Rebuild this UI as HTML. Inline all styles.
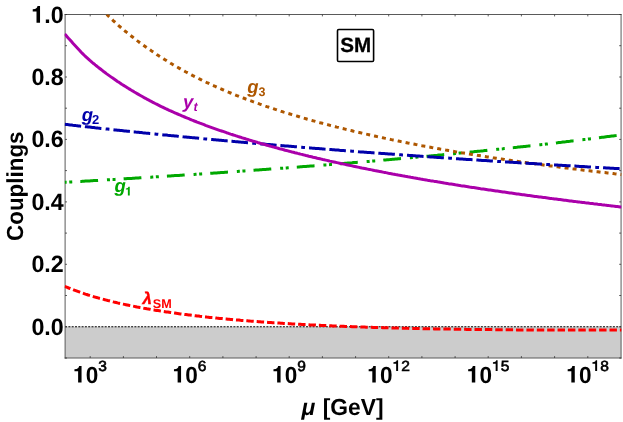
<!DOCTYPE html>
<html><head><meta charset="utf-8"><title>SM couplings</title>
<style>
html,body{margin:0;padding:0;background:#fff;}
body{width:623px;height:422px;overflow:hidden;}
svg{display:block;will-change:transform;font-family:"Liberation Sans",sans-serif;text-rendering:geometricPrecision;}
.tk{font-size:23.2px;font-weight:bold;fill:#000;}
.sup{font-size:14.7px;font-weight:normal;stroke:#000;stroke-width:0.6px;}
.lb{font-size:18.5px;font-weight:bold;font-style:italic;}
.sub{font-size:12px;font-weight:bold;font-style:normal;}
.cv{fill:none;stroke-width:3;stroke-linejoin:round;}
.tkm line{stroke:#333;stroke-width:0.8;}
</style></head><body>
<svg width="623" height="422" viewBox="0 0 623 422">
<defs><path id="one" d="M.372 0H.22V.482H.058V.575Q.17 .58 .225 .63Q.255 .66 .265 .709H.372Z"/><path id="one2" d="M.36 0H.235V.49H.06V.575Q.17 .58 .228 .625Q.262 .655 .272 .709H.36Z"/><clipPath id="cp"><rect x="64.6" y="14.5" width="556.97" height="343.5"/></clipPath></defs>
<rect x="0" y="0" width="623" height="422" fill="#fff"/>
<rect x="65.1" y="326.77" width="555.97" height="31.23" fill="#cccccc"/>
<line x1="65.1" y1="326.77" x2="621.07" y2="326.77" stroke="#000" stroke-width="1" stroke-dasharray="2 1.3"/>
<g stroke="#5a5a5a" stroke-width="1" stroke-linecap="square"><line x1="65.1" y1="14.5" x2="621.07" y2="14.5"/><line x1="65.1" y1="358.0" x2="621.07" y2="358.0"/><line x1="65.1" y1="14.5" x2="65.1" y2="358.0"/><line x1="621.07" y1="14.5" x2="621.07" y2="358.0"/></g>
<g class="tkm"><line x1="90.2" y1="358.0" x2="90.2" y2="356.1"/><line x1="90.2" y1="14.5" x2="90.2" y2="16.4"/><line x1="123.4" y1="358.0" x2="123.4" y2="356.1"/><line x1="123.4" y1="14.5" x2="123.4" y2="16.4"/><line x1="156.5" y1="358.0" x2="156.5" y2="356.1"/><line x1="156.5" y1="14.5" x2="156.5" y2="16.4"/><line x1="189.7" y1="358.0" x2="189.7" y2="356.1"/><line x1="189.7" y1="14.5" x2="189.7" y2="16.4"/><line x1="222.9" y1="358.0" x2="222.9" y2="356.1"/><line x1="222.9" y1="14.5" x2="222.9" y2="16.4"/><line x1="256.1" y1="358.0" x2="256.1" y2="356.1"/><line x1="256.1" y1="14.5" x2="256.1" y2="16.4"/><line x1="289.2" y1="358.0" x2="289.2" y2="356.1"/><line x1="289.2" y1="14.5" x2="289.2" y2="16.4"/><line x1="322.4" y1="358.0" x2="322.4" y2="356.1"/><line x1="322.4" y1="14.5" x2="322.4" y2="16.4"/><line x1="355.6" y1="358.0" x2="355.6" y2="356.1"/><line x1="355.6" y1="14.5" x2="355.6" y2="16.4"/><line x1="388.7" y1="358.0" x2="388.7" y2="356.1"/><line x1="388.7" y1="14.5" x2="388.7" y2="16.4"/><line x1="421.9" y1="358.0" x2="421.9" y2="356.1"/><line x1="421.9" y1="14.5" x2="421.9" y2="16.4"/><line x1="455.1" y1="358.0" x2="455.1" y2="356.1"/><line x1="455.1" y1="14.5" x2="455.1" y2="16.4"/><line x1="488.2" y1="358.0" x2="488.2" y2="356.1"/><line x1="488.2" y1="14.5" x2="488.2" y2="16.4"/><line x1="521.4" y1="358.0" x2="521.4" y2="356.1"/><line x1="521.4" y1="14.5" x2="521.4" y2="16.4"/><line x1="554.6" y1="358.0" x2="554.6" y2="356.1"/><line x1="554.6" y1="14.5" x2="554.6" y2="16.4"/><line x1="587.8" y1="358.0" x2="587.8" y2="356.1"/><line x1="587.8" y1="14.5" x2="587.8" y2="16.4"/><line x1="65.1" y1="358.0" x2="67.0" y2="358.0"/><line x1="621.1" y1="358.0" x2="619.2" y2="358.0"/><line x1="65.1" y1="326.8" x2="67.0" y2="326.8"/><line x1="621.1" y1="326.8" x2="619.2" y2="326.8"/><line x1="65.1" y1="295.5" x2="67.0" y2="295.5"/><line x1="621.1" y1="295.5" x2="619.2" y2="295.5"/><line x1="65.1" y1="264.3" x2="67.0" y2="264.3"/><line x1="621.1" y1="264.3" x2="619.2" y2="264.3"/><line x1="65.1" y1="233.1" x2="67.0" y2="233.1"/><line x1="621.1" y1="233.1" x2="619.2" y2="233.1"/><line x1="65.1" y1="201.9" x2="67.0" y2="201.9"/><line x1="621.1" y1="201.9" x2="619.2" y2="201.9"/><line x1="65.1" y1="170.6" x2="67.0" y2="170.6"/><line x1="621.1" y1="170.6" x2="619.2" y2="170.6"/><line x1="65.1" y1="139.4" x2="67.0" y2="139.4"/><line x1="621.1" y1="139.4" x2="619.2" y2="139.4"/><line x1="65.1" y1="108.2" x2="67.0" y2="108.2"/><line x1="621.1" y1="108.2" x2="619.2" y2="108.2"/><line x1="65.1" y1="77.0" x2="67.0" y2="77.0"/><line x1="621.1" y1="77.0" x2="619.2" y2="77.0"/><line x1="65.1" y1="45.7" x2="67.0" y2="45.7"/><line x1="621.1" y1="45.7" x2="619.2" y2="45.7"/><line x1="65.1" y1="14.5" x2="67.0" y2="14.5"/><line x1="621.1" y1="14.5" x2="619.2" y2="14.5"/></g>
<g clip-path="url(#cp)">
<path class="cv" d="M64.7 182.3 L65.9 182.2 L67.3 182.2 L68.7 182.1 L70.1 182.0 L71.5 181.9 L72.9 181.8 L74.3 181.8 L75.7 181.7 L77.1 181.6 L78.5 181.5 L79.9 181.4 L81.2 181.4 L82.6 181.3 L84.0 181.2 L85.4 181.1 L86.8 181.0 L88.2 180.9 L89.6 180.9 L91.0 180.8 L92.4 180.7 L93.8 180.6 L95.2 180.5 L96.6 180.5 L98.0 180.4 L99.4 180.3 L100.8 180.2 L102.2 180.1 L103.6 180.0 L105.0 180.0 L106.4 179.9 L107.8 179.8 L109.2 179.7 L110.6 179.6 L112.0 179.5 L113.4 179.5 L114.8 179.4 L116.2 179.3 L117.5 179.2 L118.9 179.1 L120.3 179.0 L121.7 179.0 L123.1 178.9 L124.5 178.8 L125.9 178.7 L127.3 178.6 L128.7 178.5 L130.1 178.5 L131.5 178.4 L132.9 178.3 L134.3 178.2 L135.7 178.1 L137.1 178.0 L138.5 177.9 L139.9 177.8 L141.3 177.8 L142.7 177.7 L144.1 177.6 L145.5 177.5 L146.9 177.4 L148.3 177.3 L149.7 177.2 L151.1 177.2 L152.5 177.1 L153.9 177.0 L155.2 176.9 L156.6 176.8 L158.0 176.7 L159.4 176.6 L160.8 176.5 L162.2 176.5 L163.6 176.4 L165.0 176.3 L166.4 176.2 L167.8 176.1 L169.2 176.0 L170.6 175.9 L172.0 175.8 L173.4 175.7 L174.8 175.6 L176.2 175.6 L177.6 175.5 L179.0 175.4 L180.4 175.3 L181.8 175.2 L183.2 175.1 L184.6 175.0 L186.0 174.9 L187.4 174.8 L188.8 174.7 L190.2 174.6 L191.5 174.6 L192.9 174.5 L194.3 174.4 L195.7 174.3 L197.1 174.2 L198.5 174.1 L199.9 174.0 L201.3 173.9 L202.7 173.8 L204.1 173.7 L205.5 173.6 L206.9 173.5 L208.3 173.4 L209.7 173.3 L211.1 173.2 L212.5 173.2 L213.9 173.1 L215.3 173.0 L216.7 172.9 L218.1 172.8 L219.5 172.7 L220.9 172.6 L222.3 172.5 L223.7 172.4 L225.1 172.3 L226.5 172.2 L227.9 172.1 L229.2 172.0 L230.6 171.9 L232.0 171.8 L233.4 171.7 L234.8 171.6 L236.2 171.5 L237.6 171.4 L239.0 171.3 L240.4 171.2 L241.8 171.1 L243.2 171.0 L244.6 170.9 L246.0 170.8 L247.4 170.7 L248.8 170.6 L250.2 170.5 L251.6 170.4 L253.0 170.3 L254.4 170.2 L255.8 170.1 L257.2 170.0 L258.6 169.9 L260.0 169.8 L261.4 169.7 L262.8 169.6 L264.2 169.5 L265.5 169.4 L266.9 169.3 L268.3 169.2 L269.7 169.1 L271.1 169.0 L272.5 168.9 L273.9 168.8 L275.3 168.7 L276.7 168.6 L278.1 168.5 L279.5 168.4 L280.9 168.3 L282.3 168.2 L283.7 168.1 L285.1 168.0 L286.5 167.9 L287.9 167.8 L289.3 167.7 L290.7 167.6 L292.1 167.5 L293.5 167.4 L294.9 167.3 L296.3 167.2 L297.7 167.1 L299.1 166.9 L300.5 166.8 L301.8 166.7 L303.2 166.6 L304.6 166.5 L306.0 166.4 L307.4 166.3 L308.8 166.2 L310.2 166.1 L311.6 166.0 L313.0 165.9 L314.4 165.8 L315.8 165.7 L317.2 165.5 L318.6 165.4 L320.0 165.3 L321.4 165.2 L322.8 165.1 L324.2 165.0 L325.6 164.9 L327.0 164.8 L328.4 164.7 L329.8 164.6 L331.2 164.4 L332.6 164.3 L334.0 164.2 L335.4 164.1 L336.8 164.0 L338.2 163.9 L339.5 163.8 L340.9 163.7 L342.3 163.5 L343.7 163.4 L345.1 163.3 L346.5 163.2 L347.9 163.1 L349.3 163.0 L350.7 162.9 L352.1 162.8 L353.5 162.6 L354.9 162.5 L356.3 162.4 L357.7 162.3 L359.1 162.2 L360.5 162.1 L361.9 161.9 L363.3 161.8 L364.7 161.7 L366.1 161.6 L367.5 161.5 L368.9 161.4 L370.3 161.2 L371.7 161.1 L373.1 161.0 L374.5 160.9 L375.8 160.8 L377.2 160.6 L378.6 160.5 L380.0 160.4 L381.4 160.3 L382.8 160.2 L384.2 160.0 L385.6 159.9 L387.0 159.8 L388.4 159.7 L389.8 159.6 L391.2 159.4 L392.6 159.3 L394.0 159.2 L395.4 159.1 L396.8 159.0 L398.2 158.8 L399.6 158.7 L401.0 158.6 L402.4 158.5 L403.8 158.3 L405.2 158.2 L406.6 158.1 L408.0 158.0 L409.4 157.8 L410.8 157.7 L412.2 157.6 L413.5 157.5 L414.9 157.3 L416.3 157.2 L417.7 157.1 L419.1 157.0 L420.5 156.8 L421.9 156.7 L423.3 156.6 L424.7 156.4 L426.1 156.3 L427.5 156.2 L428.9 156.1 L430.3 155.9 L431.7 155.8 L433.1 155.7 L434.5 155.5 L435.9 155.4 L437.3 155.3 L438.7 155.1 L440.1 155.0 L441.5 154.9 L442.9 154.7 L444.3 154.6 L445.7 154.5 L447.1 154.3 L448.5 154.2 L449.8 154.1 L451.2 153.9 L452.6 153.8 L454.0 153.7 L455.4 153.5 L456.8 153.4 L458.2 153.3 L459.6 153.1 L461.0 153.0 L462.4 152.9 L463.8 152.7 L465.2 152.6 L466.6 152.5 L468.0 152.3 L469.4 152.2 L470.8 152.0 L472.2 151.9 L473.6 151.8 L475.0 151.6 L476.4 151.5 L477.8 151.3 L479.2 151.2 L480.6 151.1 L482.0 150.9 L483.4 150.8 L484.8 150.6 L486.2 150.5 L487.5 150.3 L488.9 150.2 L490.3 150.1 L491.7 149.9 L493.1 149.8 L494.5 149.6 L495.9 149.5 L497.3 149.3 L498.7 149.2 L500.1 149.1 L501.5 148.9 L502.9 148.8 L504.3 148.6 L505.7 148.5 L507.1 148.3 L508.5 148.2 L509.9 148.0 L511.3 147.9 L512.7 147.7 L514.1 147.6 L515.5 147.4 L516.9 147.3 L518.3 147.1 L519.7 147.0 L521.1 146.8 L522.5 146.7 L523.8 146.5 L525.2 146.4 L526.6 146.2 L528.0 146.1 L529.4 145.9 L530.8 145.8 L532.2 145.6 L533.6 145.4 L535.0 145.3 L536.4 145.1 L537.8 145.0 L539.2 144.8 L540.6 144.7 L542.0 144.5 L543.4 144.4 L544.8 144.2 L546.2 144.0 L547.6 143.9 L549.0 143.7 L550.4 143.6 L551.8 143.4 L553.2 143.2 L554.6 143.1 L556.0 142.9 L557.4 142.8 L558.8 142.6 L560.1 142.4 L561.5 142.3 L562.9 142.1 L564.3 141.9 L565.7 141.8 L567.1 141.6 L568.5 141.4 L569.9 141.3 L571.3 141.1 L572.7 140.9 L574.1 140.8 L575.5 140.6 L576.9 140.4 L578.3 140.3 L579.7 140.1 L581.1 139.9 L582.5 139.8 L583.9 139.6 L585.3 139.4 L586.7 139.3 L588.1 139.1 L589.5 138.9 L590.9 138.7 L592.3 138.6 L593.7 138.4 L595.1 138.2 L596.5 138.0 L597.8 137.9 L599.2 137.7 L600.6 137.5 L602.0 137.3 L603.4 137.2 L604.8 137.0 L606.2 136.8 L607.6 136.6 L609.0 136.5 L610.4 136.3 L611.8 136.1 L613.2 135.9 L614.6 135.7 L616.0 135.6 L617.4 135.4 L618.8 135.2 L620.2 135.0 L621.6 134.8" stroke="#00a800" stroke-dasharray="17.799 8.899 3.000 2.600 3.000 8.099" stroke-dashoffset="27.74"/>
<path class="cv" d="M106.7 14.5 L107.8 15.5 L109.2 16.8 L110.6 18.2 L112.0 19.5 L113.4 20.8 L114.8 22.0 L116.2 23.3 L117.5 24.5 L118.9 25.8 L120.3 27.0 L121.7 28.2 L123.1 29.4 L124.5 30.6 L125.9 31.7 L127.3 32.9 L128.7 34.0 L130.1 35.1 L131.5 36.2 L132.9 37.3 L134.3 38.4 L135.7 39.5 L137.1 40.6 L138.5 41.6 L139.9 42.7 L141.3 43.7 L142.7 44.7 L144.1 45.7 L145.5 46.7 L146.9 47.7 L148.3 48.7 L149.7 49.7 L151.1 50.6 L152.5 51.6 L153.9 52.5 L155.2 53.4 L156.6 54.4 L158.0 55.3 L159.4 56.2 L160.8 57.1 L162.2 58.0 L163.6 58.9 L165.0 59.7 L166.4 60.6 L167.8 61.5 L169.2 62.3 L170.6 63.2 L172.0 64.0 L173.4 64.9 L174.8 65.7 L176.2 66.5 L177.6 67.3 L179.0 68.1 L180.4 68.9 L181.8 69.7 L183.2 70.5 L184.6 71.2 L186.0 72.0 L187.4 72.7 L188.8 73.5 L190.2 74.2 L191.5 74.9 L192.9 75.7 L194.3 76.4 L195.7 77.1 L197.1 77.8 L198.5 78.5 L199.9 79.2 L201.3 79.9 L202.7 80.6 L204.1 81.2 L205.5 81.9 L206.9 82.6 L208.3 83.2 L209.7 83.9 L211.1 84.5 L212.5 85.2 L213.9 85.8 L215.3 86.4 L216.7 87.1 L218.1 87.7 L219.5 88.3 L220.9 88.9 L222.3 89.5 L223.7 90.1 L225.1 90.7 L226.5 91.3 L227.9 91.9 L229.2 92.5 L230.6 93.0 L232.0 93.6 L233.4 94.2 L234.8 94.7 L236.2 95.3 L237.6 95.8 L239.0 96.4 L240.4 96.9 L241.8 97.5 L243.2 98.0 L244.6 98.5 L246.0 99.1 L247.4 99.6 L248.8 100.1 L250.2 100.6 L251.6 101.1 L253.0 101.7 L254.4 102.2 L255.8 102.7 L257.2 103.2 L258.6 103.7 L260.0 104.2 L261.4 104.6 L262.8 105.1 L264.2 105.6 L265.5 106.1 L266.9 106.6 L268.3 107.0 L269.7 107.5 L271.1 108.0 L272.5 108.4 L273.9 108.9 L275.3 109.4 L276.7 109.8 L278.1 110.3 L279.5 110.7 L280.9 111.2 L282.3 111.6 L283.7 112.1 L285.1 112.5 L286.5 112.9 L287.9 113.4 L289.3 113.8 L290.7 114.2 L292.1 114.7 L293.5 115.1 L294.9 115.5 L296.3 115.9 L297.7 116.3 L299.1 116.7 L300.5 117.2 L301.8 117.6 L303.2 118.0 L304.6 118.4 L306.0 118.8 L307.4 119.2 L308.8 119.6 L310.2 120.0 L311.6 120.4 L313.0 120.8 L314.4 121.1 L315.8 121.5 L317.2 121.9 L318.6 122.3 L320.0 122.7 L321.4 123.0 L322.8 123.4 L324.2 123.8 L325.6 124.2 L327.0 124.5 L328.4 124.9 L329.8 125.3 L331.2 125.6 L332.6 126.0 L334.0 126.3 L335.4 126.7 L336.8 127.1 L338.2 127.4 L339.5 127.8 L340.9 128.1 L342.3 128.5 L343.7 128.8 L345.1 129.1 L346.5 129.5 L347.9 129.8 L349.3 130.2 L350.7 130.5 L352.1 130.8 L353.5 131.2 L354.9 131.5 L356.3 131.8 L357.7 132.2 L359.1 132.5 L360.5 132.8 L361.9 133.1 L363.3 133.5 L364.7 133.8 L366.1 134.1 L367.5 134.4 L368.9 134.7 L370.3 135.0 L371.7 135.4 L373.1 135.7 L374.5 136.0 L375.8 136.3 L377.2 136.6 L378.6 136.9 L380.0 137.2 L381.4 137.5 L382.8 137.8 L384.2 138.1 L385.6 138.4 L387.0 138.7 L388.4 139.0 L389.8 139.3 L391.2 139.6 L392.6 139.9 L394.0 140.1 L395.4 140.4 L396.8 140.7 L398.2 141.0 L399.6 141.3 L401.0 141.6 L402.4 141.9 L403.8 142.1 L405.2 142.4 L406.6 142.7 L408.0 143.0 L409.4 143.2 L410.8 143.5 L412.2 143.8 L413.5 144.1 L414.9 144.3 L416.3 144.6 L417.7 144.9 L419.1 145.1 L420.5 145.4 L421.9 145.7 L423.3 145.9 L424.7 146.2 L426.1 146.4 L427.5 146.7 L428.9 147.0 L430.3 147.2 L431.7 147.5 L433.1 147.7 L434.5 148.0 L435.9 148.2 L437.3 148.5 L438.7 148.7 L440.1 149.0 L441.5 149.2 L442.9 149.5 L444.3 149.7 L445.7 150.0 L447.1 150.2 L448.5 150.5 L449.8 150.7 L451.2 151.0 L452.6 151.2 L454.0 151.4 L455.4 151.7 L456.8 151.9 L458.2 152.1 L459.6 152.4 L461.0 152.6 L462.4 152.9 L463.8 153.1 L465.2 153.3 L466.6 153.5 L468.0 153.8 L469.4 154.0 L470.8 154.2 L472.2 154.5 L473.6 154.7 L475.0 154.9 L476.4 155.1 L477.8 155.4 L479.2 155.6 L480.6 155.8 L482.0 156.0 L483.4 156.2 L484.8 156.5 L486.2 156.7 L487.5 156.9 L488.9 157.1 L490.3 157.3 L491.7 157.5 L493.1 157.8 L494.5 158.0 L495.9 158.2 L497.3 158.4 L498.7 158.6 L500.1 158.8 L501.5 159.0 L502.9 159.2 L504.3 159.4 L505.7 159.7 L507.1 159.9 L508.5 160.1 L509.9 160.3 L511.3 160.5 L512.7 160.7 L514.1 160.9 L515.5 161.1 L516.9 161.3 L518.3 161.5 L519.7 161.7 L521.1 161.9 L522.5 162.1 L523.8 162.3 L525.2 162.5 L526.6 162.7 L528.0 162.9 L529.4 163.1 L530.8 163.3 L532.2 163.5 L533.6 163.6 L535.0 163.8 L536.4 164.0 L537.8 164.2 L539.2 164.4 L540.6 164.6 L542.0 164.8 L543.4 165.0 L544.8 165.2 L546.2 165.3 L547.6 165.5 L549.0 165.7 L550.4 165.9 L551.8 166.1 L553.2 166.3 L554.6 166.5 L556.0 166.6 L557.4 166.8 L558.8 167.0 L560.1 167.2 L561.5 167.4 L562.9 167.5 L564.3 167.7 L565.7 167.9 L567.1 168.1 L568.5 168.2 L569.9 168.4 L571.3 168.6 L572.7 168.8 L574.1 168.9 L575.5 169.1 L576.9 169.3 L578.3 169.5 L579.7 169.6 L581.1 169.8 L582.5 170.0 L583.9 170.2 L585.3 170.3 L586.7 170.5 L588.1 170.7 L589.5 170.8 L590.9 171.0 L592.3 171.2 L593.7 171.3 L595.1 171.5 L596.5 171.7 L597.8 171.8 L599.2 172.0 L600.6 172.2 L602.0 172.3 L603.4 172.5 L604.8 172.6 L606.2 172.8 L607.6 173.0 L609.0 173.1 L610.4 173.3 L611.8 173.4 L613.2 173.6 L614.6 173.8 L616.0 173.9 L617.4 174.1 L618.8 174.2 L620.2 174.4 L621.6 174.6" stroke="#ae5700" stroke-dasharray="4.000 4.055" stroke-dashoffset="0.46"/>
<path class="cv" d="M64.7 124.3 L65.9 124.5 L67.3 124.6 L68.7 124.8 L70.1 125.0 L71.5 125.1 L72.9 125.3 L74.3 125.4 L75.7 125.6 L77.1 125.7 L78.5 125.9 L79.9 126.1 L81.2 126.2 L82.6 126.4 L84.0 126.5 L85.4 126.7 L86.8 126.8 L88.2 127.0 L89.6 127.1 L91.0 127.3 L92.4 127.5 L93.8 127.6 L95.2 127.8 L96.6 127.9 L98.0 128.1 L99.4 128.2 L100.8 128.4 L102.2 128.5 L103.6 128.7 L105.0 128.8 L106.4 129.0 L107.8 129.1 L109.2 129.3 L110.6 129.4 L112.0 129.6 L113.4 129.7 L114.8 129.9 L116.2 130.0 L117.5 130.2 L118.9 130.3 L120.3 130.5 L121.7 130.6 L123.1 130.7 L124.5 130.9 L125.9 131.0 L127.3 131.2 L128.7 131.3 L130.1 131.5 L131.5 131.6 L132.9 131.8 L134.3 131.9 L135.7 132.1 L137.1 132.2 L138.5 132.3 L139.9 132.5 L141.3 132.6 L142.7 132.8 L144.1 132.9 L145.5 133.1 L146.9 133.2 L148.3 133.3 L149.7 133.5 L151.1 133.6 L152.5 133.8 L153.9 133.9 L155.2 134.0 L156.6 134.2 L158.0 134.3 L159.4 134.5 L160.8 134.6 L162.2 134.7 L163.6 134.9 L165.0 135.0 L166.4 135.1 L167.8 135.3 L169.2 135.4 L170.6 135.6 L172.0 135.7 L173.4 135.8 L174.8 136.0 L176.2 136.1 L177.6 136.2 L179.0 136.4 L180.4 136.5 L181.8 136.6 L183.2 136.8 L184.6 136.9 L186.0 137.0 L187.4 137.2 L188.8 137.3 L190.2 137.4 L191.5 137.6 L192.9 137.7 L194.3 137.8 L195.7 138.0 L197.1 138.1 L198.5 138.2 L199.9 138.4 L201.3 138.5 L202.7 138.6 L204.1 138.8 L205.5 138.9 L206.9 139.0 L208.3 139.1 L209.7 139.3 L211.1 139.4 L212.5 139.5 L213.9 139.7 L215.3 139.8 L216.7 139.9 L218.1 140.0 L219.5 140.2 L220.9 140.3 L222.3 140.4 L223.7 140.6 L225.1 140.7 L226.5 140.8 L227.9 140.9 L229.2 141.1 L230.6 141.2 L232.0 141.3 L233.4 141.4 L234.8 141.6 L236.2 141.7 L237.6 141.8 L239.0 141.9 L240.4 142.1 L241.8 142.2 L243.2 142.3 L244.6 142.4 L246.0 142.5 L247.4 142.7 L248.8 142.8 L250.2 142.9 L251.6 143.0 L253.0 143.2 L254.4 143.3 L255.8 143.4 L257.2 143.5 L258.6 143.6 L260.0 143.8 L261.4 143.9 L262.8 144.0 L264.2 144.1 L265.5 144.2 L266.9 144.4 L268.3 144.5 L269.7 144.6 L271.1 144.7 L272.5 144.8 L273.9 144.9 L275.3 145.1 L276.7 145.2 L278.1 145.3 L279.5 145.4 L280.9 145.5 L282.3 145.7 L283.7 145.8 L285.1 145.9 L286.5 146.0 L287.9 146.1 L289.3 146.2 L290.7 146.3 L292.1 146.5 L293.5 146.6 L294.9 146.7 L296.3 146.8 L297.7 146.9 L299.1 147.0 L300.5 147.2 L301.8 147.3 L303.2 147.4 L304.6 147.5 L306.0 147.6 L307.4 147.7 L308.8 147.8 L310.2 147.9 L311.6 148.1 L313.0 148.2 L314.4 148.3 L315.8 148.4 L317.2 148.5 L318.6 148.6 L320.0 148.7 L321.4 148.8 L322.8 148.9 L324.2 149.1 L325.6 149.2 L327.0 149.3 L328.4 149.4 L329.8 149.5 L331.2 149.6 L332.6 149.7 L334.0 149.8 L335.4 149.9 L336.8 150.0 L338.2 150.1 L339.5 150.3 L340.9 150.4 L342.3 150.5 L343.7 150.6 L345.1 150.7 L346.5 150.8 L347.9 150.9 L349.3 151.0 L350.7 151.1 L352.1 151.2 L353.5 151.3 L354.9 151.4 L356.3 151.5 L357.7 151.6 L359.1 151.8 L360.5 151.9 L361.9 152.0 L363.3 152.1 L364.7 152.2 L366.1 152.3 L367.5 152.4 L368.9 152.5 L370.3 152.6 L371.7 152.7 L373.1 152.8 L374.5 152.9 L375.8 153.0 L377.2 153.1 L378.6 153.2 L380.0 153.3 L381.4 153.4 L382.8 153.5 L384.2 153.6 L385.6 153.7 L387.0 153.8 L388.4 153.9 L389.8 154.0 L391.2 154.1 L392.6 154.2 L394.0 154.3 L395.4 154.4 L396.8 154.5 L398.2 154.6 L399.6 154.7 L401.0 154.8 L402.4 154.9 L403.8 155.0 L405.2 155.1 L406.6 155.2 L408.0 155.3 L409.4 155.4 L410.8 155.5 L412.2 155.6 L413.5 155.7 L414.9 155.8 L416.3 155.9 L417.7 156.0 L419.1 156.1 L420.5 156.2 L421.9 156.3 L423.3 156.4 L424.7 156.5 L426.1 156.6 L427.5 156.7 L428.9 156.8 L430.3 156.9 L431.7 157.0 L433.1 157.1 L434.5 157.2 L435.9 157.3 L437.3 157.4 L438.7 157.5 L440.1 157.6 L441.5 157.7 L442.9 157.8 L444.3 157.9 L445.7 158.0 L447.1 158.0 L448.5 158.1 L449.8 158.2 L451.2 158.3 L452.6 158.4 L454.0 158.5 L455.4 158.6 L456.8 158.7 L458.2 158.8 L459.6 158.9 L461.0 159.0 L462.4 159.1 L463.8 159.2 L465.2 159.3 L466.6 159.4 L468.0 159.5 L469.4 159.5 L470.8 159.6 L472.2 159.7 L473.6 159.8 L475.0 159.9 L476.4 160.0 L477.8 160.1 L479.2 160.2 L480.6 160.3 L482.0 160.4 L483.4 160.5 L484.8 160.5 L486.2 160.6 L487.5 160.7 L488.9 160.8 L490.3 160.9 L491.7 161.0 L493.1 161.1 L494.5 161.2 L495.9 161.3 L497.3 161.4 L498.7 161.4 L500.1 161.5 L501.5 161.6 L502.9 161.7 L504.3 161.8 L505.7 161.9 L507.1 162.0 L508.5 162.1 L509.9 162.2 L511.3 162.2 L512.7 162.3 L514.1 162.4 L515.5 162.5 L516.9 162.6 L518.3 162.7 L519.7 162.8 L521.1 162.9 L522.5 162.9 L523.8 163.0 L525.2 163.1 L526.6 163.2 L528.0 163.3 L529.4 163.4 L530.8 163.5 L532.2 163.5 L533.6 163.6 L535.0 163.7 L536.4 163.8 L537.8 163.9 L539.2 164.0 L540.6 164.1 L542.0 164.1 L543.4 164.2 L544.8 164.3 L546.2 164.4 L547.6 164.5 L549.0 164.6 L550.4 164.7 L551.8 164.7 L553.2 164.8 L554.6 164.9 L556.0 165.0 L557.4 165.1 L558.8 165.2 L560.1 165.2 L561.5 165.3 L562.9 165.4 L564.3 165.5 L565.7 165.6 L567.1 165.7 L568.5 165.7 L569.9 165.8 L571.3 165.9 L572.7 166.0 L574.1 166.1 L575.5 166.1 L576.9 166.2 L578.3 166.3 L579.7 166.4 L581.1 166.5 L582.5 166.6 L583.9 166.6 L585.3 166.7 L586.7 166.8 L588.1 166.9 L589.5 167.0 L590.9 167.0 L592.3 167.1 L593.7 167.2 L595.1 167.3 L596.5 167.4 L597.8 167.4 L599.2 167.5 L600.6 167.6 L602.0 167.7 L603.4 167.8 L604.8 167.8 L606.2 167.9 L607.6 168.0 L609.0 168.1 L610.4 168.2 L611.8 168.2 L613.2 168.3 L614.6 168.4 L616.0 168.5 L617.4 168.5 L618.8 168.6 L620.2 168.7 L621.6 168.8" stroke="#0000aa" stroke-dasharray="16.600 3.800 16.600 4.300 3.800 4.030" stroke-dashoffset="0.06"/>
<path class="cv" d="M64.7 33.9 L65.9 35.3 L67.3 36.9 L68.7 38.5 L70.1 40.0 L71.5 41.6 L72.9 43.2 L74.3 44.7 L75.7 46.2 L77.1 47.7 L78.5 49.2 L79.9 50.7 L81.2 52.2 L82.6 53.6 L84.0 55.0 L85.4 56.3 L86.8 57.6 L88.2 58.9 L89.6 60.2 L91.0 61.4 L92.4 62.6 L93.8 63.7 L95.2 64.9 L96.6 66.0 L98.0 67.1 L99.4 68.2 L100.8 69.3 L102.2 70.4 L103.6 71.5 L105.0 72.5 L106.4 73.6 L107.8 74.6 L109.2 75.6 L110.6 76.6 L112.0 77.6 L113.4 78.5 L114.8 79.5 L116.2 80.5 L117.5 81.4 L118.9 82.3 L120.3 83.2 L121.7 84.2 L123.1 85.1 L124.5 85.9 L125.9 86.8 L127.3 87.7 L128.7 88.6 L130.1 89.4 L131.5 90.3 L132.9 91.1 L134.3 92.0 L135.7 92.8 L137.1 93.6 L138.5 94.4 L139.9 95.2 L141.3 96.0 L142.7 96.8 L144.1 97.6 L145.5 98.3 L146.9 99.1 L148.3 99.8 L149.7 100.6 L151.1 101.3 L152.5 102.1 L153.9 102.8 L155.2 103.5 L156.6 104.2 L158.0 104.9 L159.4 105.6 L160.8 106.3 L162.2 107.0 L163.6 107.6 L165.0 108.3 L166.4 109.0 L167.8 109.6 L169.2 110.3 L170.6 110.9 L172.0 111.5 L173.4 112.2 L174.8 112.8 L176.2 113.4 L177.6 114.0 L179.0 114.6 L180.4 115.2 L181.8 115.8 L183.2 116.4 L184.6 117.0 L186.0 117.6 L187.4 118.2 L188.8 118.7 L190.2 119.3 L191.5 119.9 L192.9 120.4 L194.3 121.0 L195.7 121.5 L197.1 122.1 L198.5 122.6 L199.9 123.2 L201.3 123.7 L202.7 124.2 L204.1 124.7 L205.5 125.3 L206.9 125.8 L208.3 126.3 L209.7 126.8 L211.1 127.3 L212.5 127.8 L213.9 128.3 L215.3 128.8 L216.7 129.3 L218.1 129.8 L219.5 130.3 L220.9 130.8 L222.3 131.2 L223.7 131.7 L225.1 132.2 L226.5 132.7 L227.9 133.1 L229.2 133.6 L230.6 134.1 L232.0 134.5 L233.4 135.0 L234.8 135.4 L236.2 135.9 L237.6 136.3 L239.0 136.8 L240.4 137.2 L241.8 137.7 L243.2 138.1 L244.6 138.5 L246.0 139.0 L247.4 139.4 L248.8 139.8 L250.2 140.3 L251.6 140.7 L253.0 141.1 L254.4 141.5 L255.8 141.9 L257.2 142.3 L258.6 142.8 L260.0 143.2 L261.4 143.6 L262.8 144.0 L264.2 144.4 L265.5 144.8 L266.9 145.2 L268.3 145.6 L269.7 146.0 L271.1 146.4 L272.5 146.7 L273.9 147.1 L275.3 147.5 L276.7 147.9 L278.1 148.3 L279.5 148.7 L280.9 149.0 L282.3 149.4 L283.7 149.8 L285.1 150.2 L286.5 150.5 L287.9 150.9 L289.3 151.3 L290.7 151.6 L292.1 152.0 L293.5 152.3 L294.9 152.7 L296.3 153.0 L297.7 153.4 L299.1 153.7 L300.5 154.1 L301.8 154.4 L303.2 154.8 L304.6 155.1 L306.0 155.5 L307.4 155.8 L308.8 156.2 L310.2 156.5 L311.6 156.8 L313.0 157.2 L314.4 157.5 L315.8 157.8 L317.2 158.2 L318.6 158.5 L320.0 158.8 L321.4 159.1 L322.8 159.5 L324.2 159.8 L325.6 160.1 L327.0 160.4 L328.4 160.7 L329.8 161.1 L331.2 161.4 L332.6 161.7 L334.0 162.0 L335.4 162.3 L336.8 162.6 L338.2 162.9 L339.5 163.2 L340.9 163.5 L342.3 163.8 L343.7 164.1 L345.1 164.4 L346.5 164.7 L347.9 165.0 L349.3 165.3 L350.7 165.6 L352.1 165.9 L353.5 166.2 L354.9 166.5 L356.3 166.8 L357.7 167.1 L359.1 167.4 L360.5 167.7 L361.9 168.0 L363.3 168.2 L364.7 168.5 L366.1 168.8 L367.5 169.1 L368.9 169.4 L370.3 169.6 L371.7 169.9 L373.1 170.2 L374.5 170.5 L375.8 170.7 L377.2 171.0 L378.6 171.3 L380.0 171.6 L381.4 171.8 L382.8 172.1 L384.2 172.4 L385.6 172.6 L387.0 172.9 L388.4 173.2 L389.8 173.4 L391.2 173.7 L392.6 174.0 L394.0 174.2 L395.4 174.5 L396.8 174.7 L398.2 175.0 L399.6 175.2 L401.0 175.5 L402.4 175.8 L403.8 176.0 L405.2 176.3 L406.6 176.5 L408.0 176.8 L409.4 177.0 L410.8 177.3 L412.2 177.5 L413.5 177.8 L414.9 178.0 L416.3 178.2 L417.7 178.5 L419.1 178.7 L420.5 179.0 L421.9 179.2 L423.3 179.5 L424.7 179.7 L426.1 179.9 L427.5 180.2 L428.9 180.4 L430.3 180.7 L431.7 180.9 L433.1 181.1 L434.5 181.4 L435.9 181.6 L437.3 181.8 L438.7 182.1 L440.1 182.3 L441.5 182.5 L442.9 182.7 L444.3 183.0 L445.7 183.2 L447.1 183.4 L448.5 183.7 L449.8 183.9 L451.2 184.1 L452.6 184.3 L454.0 184.5 L455.4 184.8 L456.8 185.0 L458.2 185.2 L459.6 185.4 L461.0 185.7 L462.4 185.9 L463.8 186.1 L465.2 186.3 L466.6 186.5 L468.0 186.7 L469.4 187.0 L470.8 187.2 L472.2 187.4 L473.6 187.6 L475.0 187.8 L476.4 188.0 L477.8 188.2 L479.2 188.4 L480.6 188.7 L482.0 188.9 L483.4 189.1 L484.8 189.3 L486.2 189.5 L487.5 189.7 L488.9 189.9 L490.3 190.1 L491.7 190.3 L493.1 190.5 L494.5 190.7 L495.9 190.9 L497.3 191.1 L498.7 191.3 L500.1 191.5 L501.5 191.7 L502.9 191.9 L504.3 192.1 L505.7 192.3 L507.1 192.5 L508.5 192.7 L509.9 192.9 L511.3 193.1 L512.7 193.3 L514.1 193.5 L515.5 193.7 L516.9 193.9 L518.3 194.1 L519.7 194.3 L521.1 194.5 L522.5 194.7 L523.8 194.8 L525.2 195.0 L526.6 195.2 L528.0 195.4 L529.4 195.6 L530.8 195.8 L532.2 196.0 L533.6 196.2 L535.0 196.4 L536.4 196.5 L537.8 196.7 L539.2 196.9 L540.6 197.1 L542.0 197.3 L543.4 197.5 L544.8 197.6 L546.2 197.8 L547.6 198.0 L549.0 198.2 L550.4 198.4 L551.8 198.6 L553.2 198.7 L554.6 198.9 L556.0 199.1 L557.4 199.3 L558.8 199.5 L560.1 199.6 L561.5 199.8 L562.9 200.0 L564.3 200.2 L565.7 200.3 L567.1 200.5 L568.5 200.7 L569.9 200.9 L571.3 201.0 L572.7 201.2 L574.1 201.4 L575.5 201.6 L576.9 201.7 L578.3 201.9 L579.7 202.1 L581.1 202.2 L582.5 202.4 L583.9 202.6 L585.3 202.8 L586.7 202.9 L588.1 203.1 L589.5 203.3 L590.9 203.4 L592.3 203.6 L593.7 203.8 L595.1 203.9 L596.5 204.1 L597.8 204.3 L599.2 204.4 L600.6 204.6 L602.0 204.8 L603.4 204.9 L604.8 205.1 L606.2 205.2 L607.6 205.4 L609.0 205.6 L610.4 205.7 L611.8 205.9 L613.2 206.1 L614.6 206.2 L616.0 206.4 L617.4 206.5 L618.8 206.7 L620.2 206.9 L621.6 207.0" stroke="#aa00aa"/>
<path class="cv" d="M64.7 286.3 L65.9 286.8 L67.3 287.4 L68.7 288.0 L70.1 288.5 L71.5 289.1 L72.9 289.6 L74.3 290.2 L75.7 290.7 L77.1 291.2 L78.5 291.7 L79.9 292.2 L81.2 292.7 L82.6 293.1 L84.0 293.6 L85.4 294.1 L86.8 294.5 L88.2 295.0 L89.6 295.4 L91.0 295.8 L92.4 296.2 L93.8 296.7 L95.2 297.1 L96.6 297.5 L98.0 297.9 L99.4 298.3 L100.8 298.6 L102.2 299.0 L103.6 299.4 L105.0 299.8 L106.4 300.1 L107.8 300.5 L109.2 300.8 L110.6 301.2 L112.0 301.5 L113.4 301.9 L114.8 302.2 L116.2 302.5 L117.5 302.9 L118.9 303.2 L120.3 303.5 L121.7 303.8 L123.1 304.1 L124.5 304.4 L125.9 304.7 L127.3 305.0 L128.7 305.3 L130.1 305.6 L131.5 305.9 L132.9 306.1 L134.3 306.4 L135.7 306.7 L137.1 307.0 L138.5 307.2 L139.9 307.5 L141.3 307.7 L142.7 308.0 L144.1 308.3 L145.5 308.5 L146.9 308.8 L148.3 309.0 L149.7 309.2 L151.1 309.5 L152.5 309.7 L153.9 309.9 L155.2 310.2 L156.6 310.4 L158.0 310.6 L159.4 310.8 L160.8 311.1 L162.2 311.3 L163.6 311.5 L165.0 311.7 L166.4 311.9 L167.8 312.1 L169.2 312.3 L170.6 312.5 L172.0 312.7 L173.4 312.9 L174.8 313.1 L176.2 313.3 L177.6 313.5 L179.0 313.7 L180.4 313.9 L181.8 314.1 L183.2 314.2 L184.6 314.4 L186.0 314.6 L187.4 314.8 L188.8 315.0 L190.2 315.1 L191.5 315.3 L192.9 315.5 L194.3 315.6 L195.7 315.8 L197.1 316.0 L198.5 316.1 L199.9 316.3 L201.3 316.4 L202.7 316.6 L204.1 316.8 L205.5 316.9 L206.9 317.1 L208.3 317.2 L209.7 317.4 L211.1 317.5 L212.5 317.6 L213.9 317.8 L215.3 317.9 L216.7 318.1 L218.1 318.2 L219.5 318.4 L220.9 318.5 L222.3 318.6 L223.7 318.8 L225.1 318.9 L226.5 319.0 L227.9 319.2 L229.2 319.3 L230.6 319.4 L232.0 319.5 L233.4 319.7 L234.8 319.8 L236.2 319.9 L237.6 320.0 L239.0 320.1 L240.4 320.3 L241.8 320.4 L243.2 320.5 L244.6 320.6 L246.0 320.7 L247.4 320.8 L248.8 320.9 L250.2 321.1 L251.6 321.2 L253.0 321.3 L254.4 321.4 L255.8 321.5 L257.2 321.6 L258.6 321.7 L260.0 321.8 L261.4 321.9 L262.8 322.0 L264.2 322.1 L265.5 322.2 L266.9 322.3 L268.3 322.4 L269.7 322.5 L271.1 322.6 L272.5 322.7 L273.9 322.8 L275.3 322.8 L276.7 322.9 L278.1 323.0 L279.5 323.1 L280.9 323.2 L282.3 323.3 L283.7 323.4 L285.1 323.5 L286.5 323.5 L287.9 323.6 L289.3 323.7 L290.7 323.8 L292.1 323.9 L293.5 324.0 L294.9 324.0 L296.3 324.1 L297.7 324.2 L299.1 324.3 L300.5 324.3 L301.8 324.4 L303.2 324.5 L304.6 324.6 L306.0 324.6 L307.4 324.7 L308.8 324.8 L310.2 324.9 L311.6 324.9 L313.0 325.0 L314.4 325.1 L315.8 325.1 L317.2 325.2 L318.6 325.3 L320.0 325.3 L321.4 325.4 L322.8 325.5 L324.2 325.5 L325.6 325.6 L327.0 325.6 L328.4 325.7 L329.8 325.8 L331.2 325.8 L332.6 325.9 L334.0 326.0 L335.4 326.0 L336.8 326.1 L338.2 326.1 L339.5 326.2 L340.9 326.2 L342.3 326.3 L343.7 326.3 L345.1 326.4 L346.5 326.5 L347.9 326.5 L349.3 326.6 L350.7 326.6 L352.1 326.7 L353.5 326.7 L354.9 326.8 L356.3 326.8 L357.7 326.9 L359.1 326.9 L360.5 327.0 L361.9 327.0 L363.3 327.1 L364.7 327.1 L366.1 327.2 L367.5 327.2 L368.9 327.2 L370.3 327.3 L371.7 327.3 L373.1 327.4 L374.5 327.4 L375.8 327.5 L377.2 327.5 L378.6 327.5 L380.0 327.6 L381.4 327.6 L382.8 327.7 L384.2 327.7 L385.6 327.7 L387.0 327.8 L388.4 327.8 L389.8 327.9 L391.2 327.9 L392.6 327.9 L394.0 328.0 L395.4 328.0 L396.8 328.0 L398.2 328.1 L399.6 328.1 L401.0 328.2 L402.4 328.2 L403.8 328.2 L405.2 328.3 L406.6 328.3 L408.0 328.3 L409.4 328.4 L410.8 328.4 L412.2 328.4 L413.5 328.4 L414.9 328.5 L416.3 328.5 L417.7 328.5 L419.1 328.6 L420.5 328.6 L421.9 328.6 L423.3 328.7 L424.7 328.7 L426.1 328.7 L427.5 328.7 L428.9 328.8 L430.3 328.8 L431.7 328.8 L433.1 328.8 L434.5 328.9 L435.9 328.9 L437.3 328.9 L438.7 328.9 L440.1 329.0 L441.5 329.0 L442.9 329.0 L444.3 329.0 L445.7 329.1 L447.1 329.1 L448.5 329.1 L449.8 329.1 L451.2 329.1 L452.6 329.2 L454.0 329.2 L455.4 329.2 L456.8 329.2 L458.2 329.3 L459.6 329.3 L461.0 329.3 L462.4 329.3 L463.8 329.3 L465.2 329.3 L466.6 329.4 L468.0 329.4 L469.4 329.4 L470.8 329.4 L472.2 329.4 L473.6 329.5 L475.0 329.5 L476.4 329.5 L477.8 329.5 L479.2 329.5 L480.6 329.5 L482.0 329.5 L483.4 329.6 L484.8 329.6 L486.2 329.6 L487.5 329.6 L488.9 329.6 L490.3 329.6 L491.7 329.6 L493.1 329.7 L494.5 329.7 L495.9 329.7 L497.3 329.7 L498.7 329.7 L500.1 329.7 L501.5 329.7 L502.9 329.7 L504.3 329.8 L505.7 329.8 L507.1 329.8 L508.5 329.8 L509.9 329.8 L511.3 329.8 L512.7 329.8 L514.1 329.8 L515.5 329.8 L516.9 329.9 L518.3 329.9 L519.7 329.9 L521.1 329.9 L522.5 329.9 L523.8 329.9 L525.2 329.9 L526.6 329.9 L528.0 329.9 L529.4 329.9 L530.8 329.9 L532.2 329.9 L533.6 329.9 L535.0 330.0 L536.4 330.0 L537.8 330.0 L539.2 330.0 L540.6 330.0 L542.0 330.0 L543.4 330.0 L544.8 330.0 L546.2 330.0 L547.6 330.0 L549.0 330.0 L550.4 330.0 L551.8 330.0 L553.2 330.0 L554.6 330.0 L556.0 330.0 L557.4 330.0 L558.8 330.0 L560.1 330.0 L561.5 330.0 L562.9 330.0 L564.3 330.1 L565.7 330.1 L567.1 330.1 L568.5 330.1 L569.9 330.1 L571.3 330.1 L572.7 330.1 L574.1 330.1 L575.5 330.1 L576.9 330.1 L578.3 330.1 L579.7 330.1 L581.1 330.1 L582.5 330.1 L583.9 330.1 L585.3 330.1 L586.7 330.1 L588.1 330.1 L589.5 330.1 L590.9 330.1 L592.3 330.1 L593.7 330.1 L595.1 330.1 L596.5 330.1 L597.8 330.1 L599.2 330.1 L600.6 330.1 L602.0 330.1 L603.4 330.1 L604.8 330.1 L606.2 330.1 L607.6 330.1 L609.0 330.1 L610.4 330.1 L611.8 330.0 L613.2 330.0 L614.6 330.0 L616.0 330.0 L617.4 330.0 L618.8 330.0 L620.2 330.0 L621.6 330.0" stroke="#ff0000" stroke-dasharray="7.450 2.936" stroke-dashoffset="1.30"/>
</g>
<use href="#one" transform="translate(73.14,382.50) scale(22.620,-23.200)" fill="#000"/><text transform="translate(85.72,382.50) scale(0.975,1)" class="tk">0</text><text transform="translate(98.29,371.10) scale(1.060,1)" class="sup">3</text><use href="#one" transform="translate(172.65,382.50) scale(22.620,-23.200)" fill="#000"/><text transform="translate(185.23,382.50) scale(0.975,1)" class="tk">0</text><text transform="translate(197.80,371.10) scale(1.060,1)" class="sup">6</text><use href="#one" transform="translate(272.16,382.50) scale(22.620,-23.200)" fill="#000"/><text transform="translate(284.74,382.50) scale(0.975,1)" class="tk">0</text><text transform="translate(297.31,371.10) scale(1.060,1)" class="sup">9</text><use href="#one" transform="translate(367.34,382.50) scale(22.620,-23.200)" fill="#000"/><text transform="translate(379.92,382.50) scale(0.975,1)" class="tk">0</text><use href="#one2" transform="translate(392.49,371.10) scale(15.582,-15.200)"/><text transform="translate(401.16,371.10) scale(1.060,1)" class="sup">2</text><use href="#one" transform="translate(466.85,382.50) scale(22.620,-23.200)" fill="#000"/><text transform="translate(479.43,382.50) scale(0.975,1)" class="tk">0</text><use href="#one2" transform="translate(492.00,371.10) scale(15.582,-15.200)"/><text transform="translate(500.67,371.10) scale(1.060,1)" class="sup">5</text><use href="#one" transform="translate(566.36,382.50) scale(22.620,-23.200)" fill="#000"/><text transform="translate(578.94,382.50) scale(0.975,1)" class="tk">0</text><use href="#one2" transform="translate(591.51,371.10) scale(15.582,-15.200)"/><text transform="translate(600.18,371.10) scale(1.060,1)" class="sup">8</text>
<text transform="translate(63.7,335.1) scale(0.985,1)" text-anchor="end" class="tk" style="font-size:23.6px">0.0</text><text transform="translate(63.7,272.2) scale(0.985,1)" text-anchor="end" class="tk" style="font-size:23.6px">0.2</text><text transform="translate(63.7,209.5) scale(0.985,1)" text-anchor="end" class="tk" style="font-size:23.6px">0.4</text><text transform="translate(63.7,147.0) scale(0.985,1)" text-anchor="end" class="tk" style="font-size:23.6px">0.6</text><text transform="translate(63.7,84.6) scale(0.985,1)" text-anchor="end" class="tk" style="font-size:23.6px">0.8</text><use href="#one" transform="translate(31.39,22.85) scale(23.246,-23.600)" fill="#000"/><text transform="translate(63.7,22.9) scale(0.985,1)" text-anchor="end" class="tk" style="font-size:23.6px">.0</text>
<text class="lb" x="247.3" y="92.6" fill="#ae5700">g<tspan class="sub" dy="2.9" style="font-size:12.5px">3</tspan></text>
<text class="lb" x="183.0" y="107.9" fill="#aa00aa">y<tspan class="sub" dx="0.3" dy="3.3" style="font-style:italic;font-size:12.5px">t</tspan></text>
<text class="lb" x="81.8" y="120.5" fill="#0000aa">g<tspan class="sub" dx="-1.1" dy="3.0" style="font-size:13px">2</tspan></text>
<text class="lb" x="114.4" y="192.3" fill="#00a800">g</text><use href="#one" transform="translate(125.15,195.60) scale(12.400,-12.400)" fill="#00a800"/>
<text class="lb" x="142.5" y="304.2" fill="#ff0000" style="font-size:16.8px;stroke:#ff0000;stroke-width:0.4px">λ</text><text class="sub" x="152.8" y="307.6" fill="#ff0000" style="font-size:12.6px">SM</text>
<rect x="337.5" y="29.5" width="36.1" height="32" rx="1.3" ry="1.3" fill="#fff" stroke="#000" stroke-width="1.6"/>
<text x="355.8" y="52.3" text-anchor="middle" style="font-size:20.6px;font-weight:bold;stroke:#000;stroke-width:0.3px">SM</text>
<text transform="translate(342.6,414.9) scale(0.985,1)" text-anchor="middle" style="font-size:23.2px;font-weight:bold"><tspan style="font-style:italic">μ</tspan><tspan dx="1"> [GeV]</tspan></text>
<text transform="translate(23.1,186.2) rotate(-90) scale(0.965,1)" text-anchor="middle" style="font-size:23.2px;font-weight:bold">Couplings</text>
</svg>
</body></html>
